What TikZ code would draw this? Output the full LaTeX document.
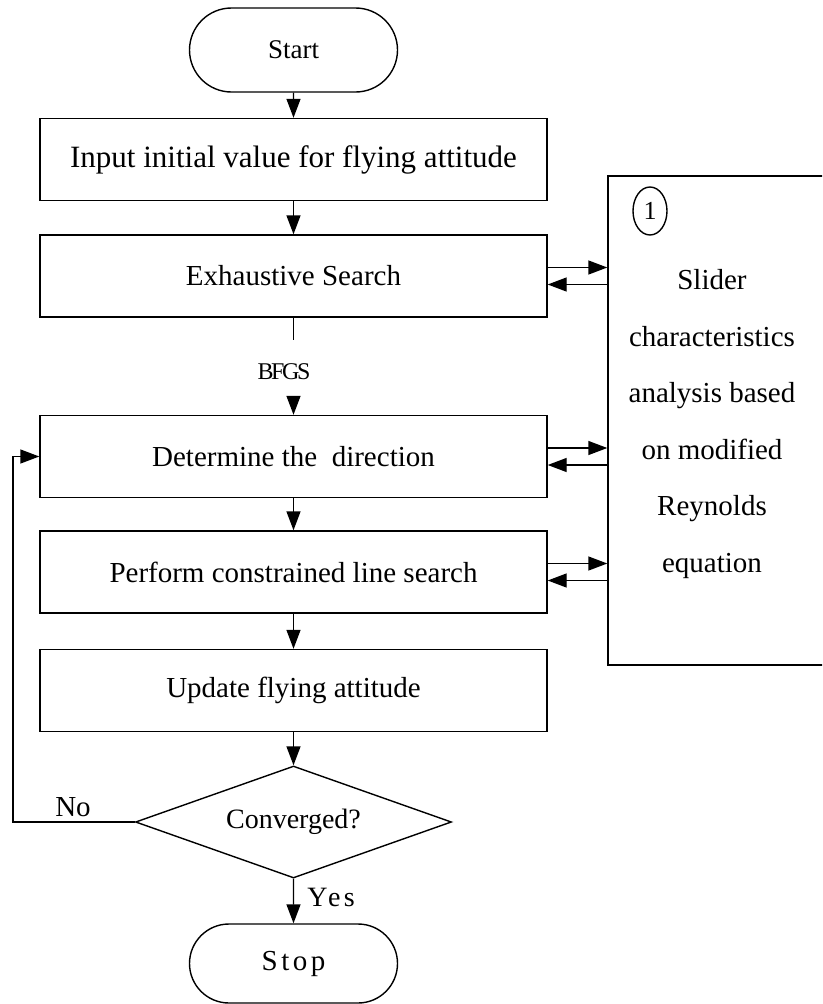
\documentclass[tikz,border=0pt]{standalone}
\usepackage{fontspec}
\setmainfont{Liberation Serif}
\usetikzlibrary{arrows.meta,shapes.geometric,shapes.misc}
\begin{document}
\begin{tikzpicture}[x=1pt,y=-1pt,line width=1.4pt,
  txt/.style={font=\fontsize{29}{34}\selectfont},
  box/.style={draw,rectangle,minimum width=507pt,minimum height=82pt,inner sep=0pt,txt},
  term/.style={draw,rounded rectangle,minimum width=208pt,inner sep=0pt},
  arr/.style={-{Triangle[length=19pt,width=14pt]}}]
\clip (0,0) rectangle (822,1004);
\node[term,minimum height=84pt,font=\fontsize{27}{32}\selectfont] (start) at (293.5,50) {Start};
\node[box,font=\fontsize{31}{36}\selectfont] (inp) at (293.5,159.5) {Input initial value for flying attitude};
\node[box] (exh) at (293.5,276) {Exhaustive Search};
\node[box] (det) at (293.5,456.5) {Determine the\ \ direction};
\node[box] (per) at (293.5,572) {Perform constrained line search};
\node[box] (upd) at (293.5,690.5) {Update flying attitude};
\node[draw,diamond,shape aspect=2.82,minimum width=316pt,minimum height=112pt,inner sep=0pt,font=\fontsize{28}{32}\selectfont] (conv) at (293.5,822) {Converged?};
\node[term,minimum height=79pt,font=\fontsize{29}{32}\selectfont\addfontfeature{LetterSpace=12}] (stop) at (293.5,963.5) {Stop};
\node[draw,rectangle,minimum width=292pt,minimum height=489pt,inner sep=0pt] (slider) at (754,420.5) {};
\node[draw,ellipse,minimum width=34pt,minimum height=48pt,inner sep=0pt,font=\fontsize{26}{30}\selectfont] (one) at (650,211) {1};
\node[align=center,font=\fontsize{29}{56.5}\selectfont] (stxt) at (712,424) {Slider\\characteristics\\analysis based\\on modified\\Reynolds\\equation};
\draw[arr] (start) -- (inp);
\draw[arr] (inp) -- (exh);
\coordinate (b1) at (293.5,340);
\coordinate (b2) at (293.5,396);
\draw (exh.south) -- (b1);
\node[font=\fontsize{24}{28}\selectfont\addfontfeature{LetterSpace=-10}] (bfgs) at (284,372) {BFGS};
\draw[arr] (b2) -- (det);
\draw[arr] (det) -- (per);
\draw[arr] (per) -- (upd);
\draw[arr] (upd) -- (conv);
\draw[arr] (conv) -- (stop);
\node[txt] (no) at (73,807) {No};
\node[font=\fontsize{28}{32}\selectfont\addfontfeature{LetterSpace=12}] (yes) at (331,897) {Yes};
\coordinate (lp) at (13,822);
\draw[arr] (conv.west) -- (lp) |- (det.west);
\foreach \n in {exh,det,per}{
  \coordinate (\n-a) at ([yshift=8.5pt]\n.east);
  \coordinate (\n-b) at ([yshift=-8.5pt]\n.east);
  \draw[arr] (\n-a) -- (\n-a -| slider.west);
  \draw[arr] (\n-b -| slider.west) -- (\n-b);
}
\end{tikzpicture}
\end{document}
